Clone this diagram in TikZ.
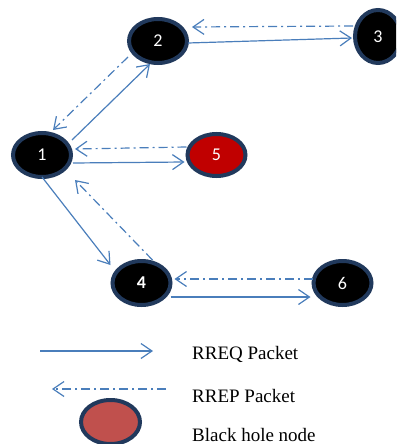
\documentclass[tikz,border=0pt]{standalone}
\usepackage{fontspec}
\setmainfont{Liberation Serif}
\newfontfamily\lblfont{Carlito}
\usetikzlibrary{shapes.geometric,arrows.meta,calc}
\definecolor{lineblue}{RGB}{74,126,187}
\definecolor{navy}{RGB}{33,57,92}
\definecolor{holered}{RGB}{192,0,0}
\definecolor{legred}{RGB}{192,80,77}
\tikzset{
  netnode/.style={ellipse, draw=navy, line width=4pt, fill=black, text=white,
    inner sep=0pt, minimum width=58pt, minimum height=44pt, font=\lblfont\fontsize{18}{18}\selectfont},
  req/.style={draw=lineblue, line width=1.2pt, -{Straight Barb[length=11pt,width=15pt]}},
  rep/.style={draw=lineblue, line width=1.2pt, dash pattern=on 9pt off 4pt on 2pt off 4pt,
    -{Straight Barb[length=11pt,width=15pt]}},
  legtext/.style={anchor=base west, inner sep=0pt, font=\fontsize{19}{19}\selectfont}
}
\begin{document}
\begin{tikzpicture}[x=1pt,y=-1pt]
\useasboundingbox (0,0) rectangle (396,444);
\clip (0,0) rectangle (396,444);
\node[netnode] (n1) at (42,155) {1};
\node[netnode] (n2) at (158,41) {2};
\node[netnode, minimum width=46pt, minimum height=53pt] (n3) at (378,36.5) {3};
\node[netnode] (n4) at (141.5,283) {\bfseries 4};
\node[netnode, fill=holered, minimum height=42pt] (n5) at (216.5,155) {5};
\node[netnode] (n6) at (342.5,283) {6};
% RREQ
\draw[req] ($(n2)+(30,2)$) -- ($(n3)+(-26,1.5)$);
\draw[req] ($(n1)+(30,-15)$) -- ($(n2)+(-8,23)$);
\draw[req] ($(n1)+(31,8)$) -- ($(n5)+(-32,7)$);
\draw[req] ($(n1)+(0,22)$) -- ($(n4)+(-31,-18)$);
\draw[req] ($(n4)+(29,14)$) -- ($(n6)+(-32,14)$);
% RREP
\draw[rep] ($(n3)+(-25,-10.5)$) -- ($(n2)+(34,-14)$);
\draw[rep] ($(n2)+(-30,16)$) -- ($(n1)+(11,-25)$);
\draw[rep] ($(n5)+(-30,-8)$) -- ($(n1)+(33,-6)$);
\draw[rep] ($(n4)+(11,-23)$) -- ($(n1)+(33,25)$);
\draw[rep] ($(n6)+(-30,-4)$) -- ($(n4)+(33,-4)$);
% legend
\coordinate (qa) at (40,351);
\coordinate (qb) at (153,351);
\coordinate (pa) at (166,389);
\coordinate (pb) at (52,389);
\draw[req] (qa) -- (qb);
\draw[rep] (pa) -- (pb);
\node[ellipse, draw=navy, line width=4pt, fill=legred, inner sep=0pt,
  minimum width=59pt, minimum height=44pt] (leg) at (110.5,422) {};
\node[legtext] (t1) at (192,359) {RREQ Packet};
\node[legtext] (t2) at (192,402) {RREP Packet};
\node[legtext] (t3) at (192,441) {Black hole node};
\end{tikzpicture}
\end{document}
